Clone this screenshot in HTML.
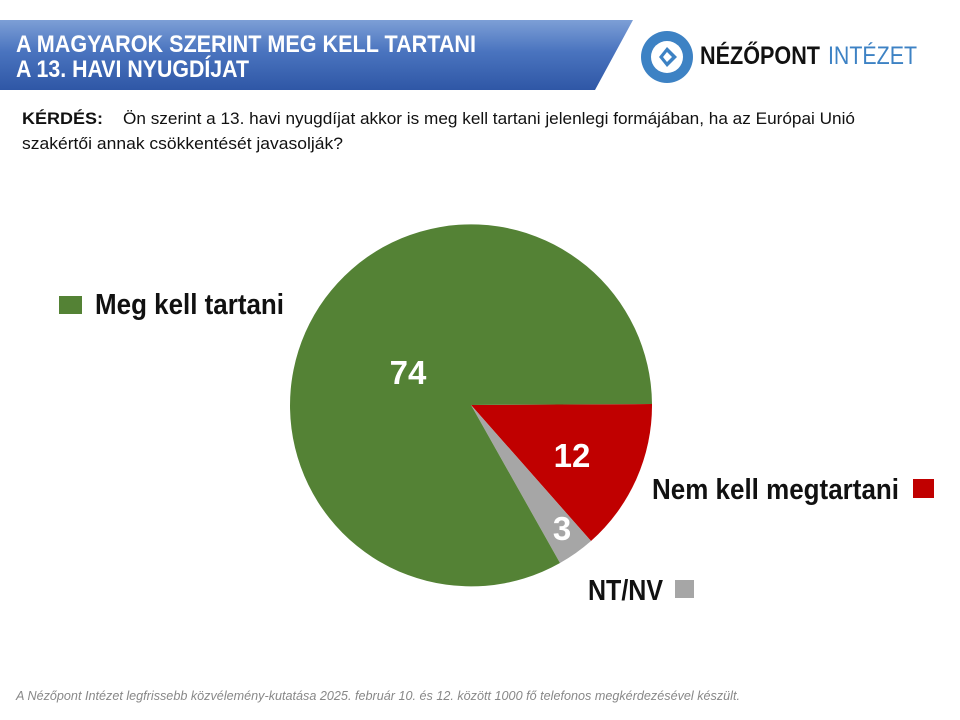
<!DOCTYPE html>
<html><head><meta charset="utf-8"><style>
html,body{margin:0;padding:0;background:#fff;width:960px;height:720px;overflow:hidden}
svg{display:block}
text{font-family:"Liberation Sans",sans-serif}
</style></head><body>
<svg width="960" height="720" viewBox="0 0 960 720" xmlns="http://www.w3.org/2000/svg">
<defs>
<linearGradient id="bg" x1="0" y1="0" x2="0" y2="1">
<stop offset="0" stop-color="#7d9fd6"/><stop offset="0.45" stop-color="#4a74bf"/><stop offset="1" stop-color="#2f57a6"/>
</linearGradient>
</defs>
<polygon points="0,20 633,20 595,90 0,90" fill="url(#bg)"/>
<text x="16" y="52" font-size="24" font-weight="bold" fill="#fff" textLength="460" lengthAdjust="spacingAndGlyphs">A MAGYAROK SZERINT MEG KELL TARTANI</text>
<text x="16" y="77" font-size="24" font-weight="bold" fill="#fff" textLength="233" lengthAdjust="spacingAndGlyphs">A 13. HAVI NYUGDÍJAT</text>
<!-- logo -->
<circle cx="667" cy="57" r="26" fill="#3d82c4"/>
<circle cx="667" cy="57" r="16" fill="#fff"/>
<polygon points="659,57 667,47 677,57 667,67" fill="#3d82c4"/>
<polygon points="663,57 667,52 672,57 667,62" fill="#fff"/>
<text x="700" y="64" font-size="25" font-weight="bold" fill="#111" textLength="120" lengthAdjust="spacingAndGlyphs">NÉZŐPONT</text>
<text x="828" y="64" font-size="25" fill="#3d82c4" textLength="89" lengthAdjust="spacingAndGlyphs">INTÉZET</text>
<!-- question -->
<text x="22" y="124" font-size="17" font-weight="bold" fill="#111" textLength="81" lengthAdjust="spacingAndGlyphs">KÉRDÉS:</text>
<text x="123" y="124" font-size="17" fill="#111" textLength="732" lengthAdjust="spacingAndGlyphs">Ön szerint a 13. havi nyugdíjat akkor is meg kell tartani jelenlegi formájában, ha az Európai Unió</text>
<text x="22" y="149" font-size="17" fill="#111" textLength="321" lengthAdjust="spacingAndGlyphs">szakértői annak csökkentését javasolják?</text>
<!-- pie -->
<path d="M471,405 L652,404 A181,181 0 0 1 591,541 Z" fill="#c00000"/>
<path d="M471,405 L591,541 A181,181 0 0 1 560,563 Z" fill="#a6a6a6"/>
<path d="M471,405 L560,563 A181,181 0 1 1 652,404 Z" fill="#548235"/>
<text x="408" y="384" font-size="33" font-weight="bold" fill="#fff" text-anchor="middle">74</text>
<text x="572" y="467" font-size="33" font-weight="bold" fill="#fff" text-anchor="middle">12</text>
<text x="562" y="540" font-size="33" font-weight="bold" fill="#fff" text-anchor="middle">3</text>
<!-- legend labels -->
<rect x="59" y="296" width="23" height="18" fill="#548235"/>
<text x="95" y="314" font-size="29" font-weight="bold" fill="#111" textLength="189" lengthAdjust="spacingAndGlyphs">Meg kell tartani</text>
<text x="652" y="499" font-size="29" font-weight="bold" fill="#111" textLength="247" lengthAdjust="spacingAndGlyphs">Nem kell megtartani</text>
<rect x="913" y="479" width="21" height="19" fill="#c00000"/>
<text x="588" y="600" font-size="29" font-weight="bold" fill="#111" textLength="75" lengthAdjust="spacingAndGlyphs">NT/NV</text>
<rect x="675" y="580" width="19" height="18" fill="#a6a6a6"/>
<!-- footer -->
<text x="16" y="700" font-size="12.5" font-style="italic" fill="#888" textLength="724" lengthAdjust="spacingAndGlyphs">A Nézőpont Intézet legfrissebb közvélemény-kutatása 2025. február 10. és 12. között 1000 fő telefonos megkérdezésével készült.</text>
</svg>
</body></html>
